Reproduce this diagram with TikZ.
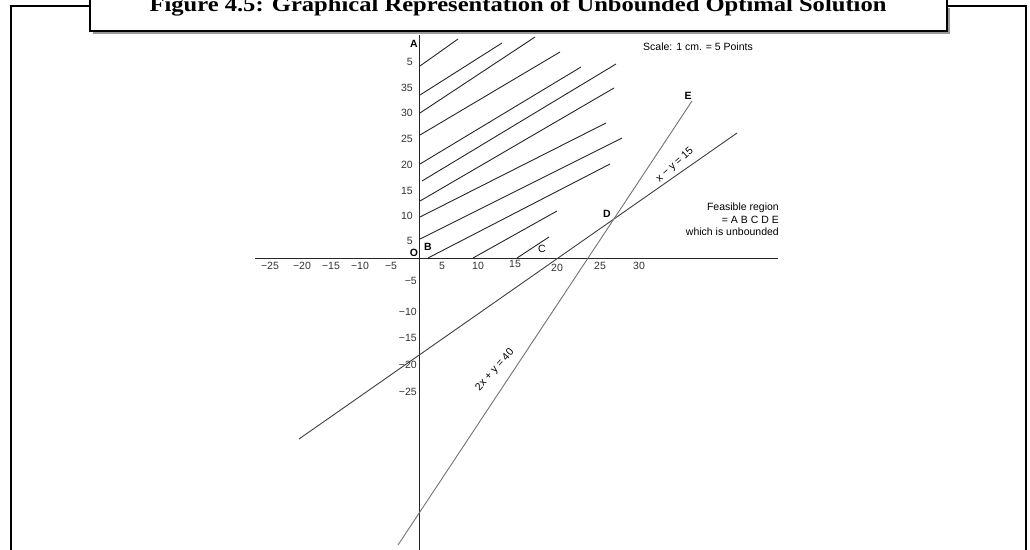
\documentclass[tikz,border=0pt]{standalone}
\usepackage{fontspec}
\setmainfont{Liberation Serif}
\setsansfont{Liberation Sans}
\begin{document}
\begin{tikzpicture}[x=1pt,y=-1pt,
  frame/.style={line width=2.8pt,black},
  hatch/.style={line width=0.9pt,black!85},
  axis/.style={line width=1pt,black!85},
  tick/.style={font=\sffamily\fontsize{10.5}{12}\selectfont,text=black!80,inner sep=0pt},
  ptlabel/.style={font=\sffamily\bfseries\fontsize{10.5}{12}\selectfont,inner sep=0pt},
  note/.style={font=\sffamily\fontsize{10.5}{12.5}\selectfont,inner sep=0pt}]
\useasboundingbox (0,0) rectangle (1030,549);
\fill[white] (0,0) rectangle (1030,549);
% frame
\draw[frame] (11,560) -- (11,6) -- (90,6);
\draw[frame] (947,6) -- (1026,6) -- (1026,560);
\draw[line width=1.5pt,black!40] (93,33.2) -- (949.2,33.2) -- (949.2,8);
\draw[frame,fill=white] (90,-10) rectangle (947,31);
\node[anchor=base,inner sep=0pt] (title) at (518,11) {\scalebox{1.17}[1]{\bfseries\fontsize{21}{24}\selectfont Figure 4.5: Graphical Representation of Unbounded Optimal Solution}};
% axes
\coordinate (xl) at (255,258); \coordinate (xr) at (778,258);
\coordinate (yt) at (419,35); \coordinate (yb) at (419,560);
\draw[axis] (xl) -- (xr);
\draw[axis] (yt) -- (yb);
% hatch lines
\foreach \ax/\ay/\bx/\by in {420/66/458/39, 420/95/502/43, 420/113/535/37, 420/135/560/52,
  420/164/581/67, 422/181/616/64, 420/201/614/88, 420/217/606/123, 420/239/622/138,
  428/258/610/164, 473/258/557/211, 517/258/549/237}
  \draw[hatch] (\ax,\ay) -- (\bx,\by);
% constraint lines
\coordinate (L1a) at (299,439); \coordinate (L1b) at (737,133);
\coordinate (L2a) at (398,545); \coordinate (L2b) at (692,101);
\draw[line width=0.9pt,black!75] (L1a) -- (L1b);
\draw[line width=0.9pt,black!55] (L2a) -- (L2b);
% x tick labels
\foreach \t/\x in {−25/270, −20/302, −15/331, −10/360, −5/391, 5/442, 10/478, 25/600, 30/639}
  \node[tick] at (\x,266) {\t};
\node[tick] (x15) at (515,264) {15};
\node[tick] (x20) at (557,268) {20};
% y tick labels
\foreach \t/\y in {5/62, 35/88, 30/113, 25/139, 20/165, 15/191, 10/216, 5/241}
  \node[tick,anchor=east] at (413,\y) {\t};
\foreach \t/\y in {−5/281, −10/312, −15/338, −20/365, −25/392}
  \node[tick,anchor=east] at (417,\y) {\t};
% point labels
\node[ptlabel] (O) at (414,253) {O};
\node[ptlabel] (A) at (414,44) {A};
\node[ptlabel] (B) at (428,247) {B};
\node[tick,text=black] (C) at (542,249) {C};
\node[ptlabel] (D) at (607,214) {D};
\node[ptlabel] (E) at (688,96) {E};
% notes
\node[note,anchor=west] (scale) at (643,47) {Scale: 1 cm. = 5 Points};
\node[note,anchor=north east,align=right] (feas) at (779,203) {Feasible region\\= A B C D E\\which is unbounded};
\node[note,rotate=42] (lab1) at (675,165) {x − y = 15};
\node[note,rotate=48] (lab2) at (495,370) {2x + y = 40};
\end{tikzpicture}
\end{document}
